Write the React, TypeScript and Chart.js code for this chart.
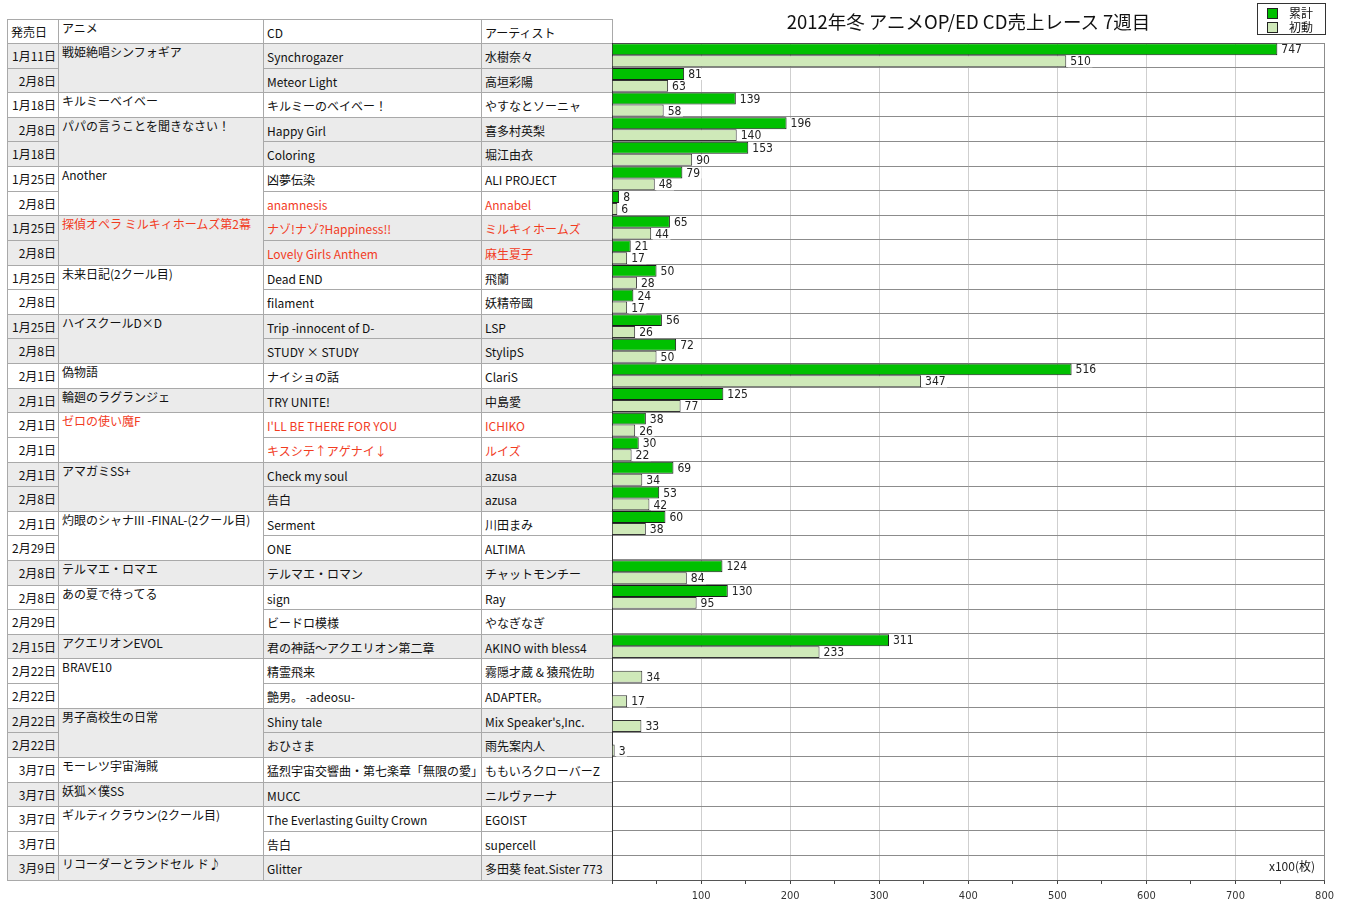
import React, { useEffect, useRef } from "react";
import { Chart, registerables } from "chart.js";

Chart.register(...registerables);

// ---------- data ----------
const chartTitle = "2012年冬 アニメOP/ED CD売上レース 7週目";
const unitLabel = "x100(枚)";
const headerLabels = ["発売日", "アニメ", "CD", "アーティスト"];
const seriesNames = ["累計", "初動"];

const releaseDates = [
  "1月11日", "2月8日", "1月18日", "2月8日", "1月18日", "1月25日", "2月8日", "1月25日", "2月8日",
  "1月25日", "2月8日", "1月25日", "2月8日", "2月1日", "2月1日", "2月1日", "2月1日", "2月1日",
  "2月8日", "2月1日", "2月29日", "2月8日", "2月8日", "2月29日", "2月15日", "2月22日", "2月22日",
  "2月22日", "2月22日", "3月7日", "3月7日", "3月7日", "3月7日", "3月9日",
];

const animeTitles = [
  "戦姫絶唱シンフォギア", "キルミーベイベー", "パパの言うことを聞きなさい！", "Another",
  "探偵オペラ ミルキィホームズ第2幕", "未来日記(2クール目)", "ハイスクールD×D", "偽物語",
  "輪廻のラグランジェ", "ゼロの使い魔F", "アマガミSS+", "灼眼のシャナIII -FINAL-(2クール目)",
  "テルマエ・ロマエ", "あの夏で待ってる", "アクエリオンEVOL", "BRAVE10", "男子高校生の日常",
  "モーレツ宇宙海賊", "妖狐×僕SS", "ギルティクラウン(2クール目)", "リコーダーとランドセル ド♪",
];
const animeRowCounts = [2, 1, 2, 2, 2, 2, 2, 1, 1, 2, 2, 2, 1, 2, 1, 2, 2, 1, 1, 2, 1];
const redAnime = [4, 9];

const cdTitles = [
  "Synchrogazer", "Meteor Light", "キルミーのベイベー！", "Happy Girl", "Coloring", "凶夢伝染",
  "anamnesis", "ナゾ!ナゾ?Happiness!!", "Lovely Girls Anthem", "Dead END", "filament",
  "Trip -innocent of D-", "STUDY × STUDY", "ナイショの話", "TRY UNITE!", "I'LL BE THERE FOR YOU",
  "キスシテ↑アゲナイ↓", "Check my soul", "告白", "Serment", "ONE", "テルマエ・ロマン", "sign",
  "ビードロ模様", "君の神話～アクエリオン第二章", "精霊飛来", "艶男。 -adeosu-", "Shiny tale",
  "おひさま", "猛烈宇宙交響曲・第七楽章「無限の愛」", "MUCC", "The Everlasting Guilty Crown",
  "告白", "Glitter",
];

const artists = [
  "水樹奈々", "高垣彩陽", "やすなとソーニャ", "喜多村英梨", "堀江由衣", "ALI PROJECT", "Annabel",
  "ミルキィホームズ", "麻生夏子", "飛蘭", "妖精帝國", "LSP", "StylipS", "ClariS", "中島愛",
  "ICHIKO", "ルイズ", "azusa", "azusa", "川田まみ", "ALTIMA", "チャットモンチー", "Ray",
  "やなぎなぎ", "AKINO with bless4", "霧隠才蔵 & 猿飛佐助", "ADAPTER。", "Mix Speaker's,Inc.",
  "雨先案内人", "ももいろクローバーZ", "ニルヴァーナ", "EGOIST", "supercell", "多田葵 feat.Sister 773",
];
const redRows = [6, 7, 8, 15, 16];

const cumulativeSales = [
  747, 81, 139, 196, 153, 79, 8, 65, 21, 50, 24, 56, 72, 516, 125, 38, 30, 69, 53, 60, null,
  124, 130, null, 311, null, null, null, null, null, null, null, null, null,
];
const firstWeekSales = [
  510, 63, 58, 140, 90, 48, 6, 44, 17, 28, 17, 26, 50, 347, 77, 26, 22, 34, 42, 38, null,
  84, 95, null, 233, 34, 17, 33, 3, null, null, null, null, null,
];

const axisMax = 800;
const axisStep = 50;

// ---------- layout ----------
const FONT = "'Noto Sans CJK JP', 'Noto Sans', sans-serif";
const NUM_FONT = "'Liberation Sans Narrow', 'DejaVu Sans Condensed', 'Noto Sans CJK JP', sans-serif";
const COLS = [7, 58, 263, 481, 612];
const HEAD_TOP = 19;
const ROW_TOP = 43;
const ROW_BOTTOM = 880;
const ROW_H = (ROW_BOTTOM - ROW_TOP) / releaseDates.length;
const LINE = "#a9a9a9";
const GRAY = "#ebebeb";
const RED = "#f23c1f";
const DARK_GREEN = "#00c000";
const LIGHT_GREEN = "#cfe9b9";

type CellProps = {
  col: number;
  top: number;
  height: number;
  bg?: string;
  color?: string;
  align?: "left" | "right";
  valign?: "top" | "center";
  offsetY?: number;
  children?: React.ReactNode;
};

function Cell({ col, top, height, bg, color, align = "left", valign = "center", offsetY = 0, children }: CellProps) {
  const left = COLS[col];
  const width = COLS[col + 1] - left;
  return (
    <div
      style={{
        position: "absolute",
        left,
        top,
        width: width + 1,
        height: height + 1,
        boxSizing: "border-box",
        border: `1px solid ${LINE}`,
        background: bg || "#fff",
        color: color || "#111",
        fontFamily: FONT,
        fontSize: 12,
        lineHeight: "14px",
        display: "flex",
        alignItems: valign === "top" ? "flex-start" : "center",
        justifyContent: align === "right" ? "flex-end" : "flex-start",
        paddingLeft: align === "left" ? 3 : 0,
        paddingRight: align === "right" ? 2 : 0,
        paddingTop: valign === "top" ? 1 : offsetY,
        whiteSpace: "nowrap",
        overflow: "hidden",
      }}
    >
      {children}
    </div>
  );
}

function BarChart() {
  const ref = useRef<HTMLCanvasElement | null>(null);
  useEffect(() => {
    if (!ref.current) return;
    const valueLabels = {
      id: "valueLabels",
      afterDatasetsDraw(chart: any) {
        const ctx = chart.ctx;
        ctx.save();
        ctx.font = `12px ${NUM_FONT}`;
        ctx.textBaseline = "middle";
        ctx.textAlign = "left";
        chart.data.datasets.forEach((ds: any, i: number) => {
          const meta = chart.getDatasetMeta(i);
          meta.data.forEach((el: any, j: number) => {
            const v = ds.data[j];
            if (v == null) return;
            const s = String(v);
            const w = ctx.measureText(s).width;
            ctx.fillStyle = "#fff";
            ctx.fillRect(el.x + 1.5, el.y - 5, w + 4, 11);
            ctx.fillStyle = "#222";
            ctx.fillText(s, el.x + 4, el.y + 1);
          });
        });
        ctx.restore();
      },
    };
    const chart = new Chart(ref.current, {
      type: "bar",
      data: {
        labels: cdTitles,
        datasets: [
          {
            label: seriesNames[0],
            data: cumulativeSales,
            backgroundColor: DARK_GREEN,
            borderColor: "#1a1a1a",
            borderWidth: 1,
            categoryPercentage: 0.97,
            barPercentage: 1.0,
          },
          {
            label: seriesNames[1],
            data: firstWeekSales,
            backgroundColor: LIGHT_GREEN,
            borderColor: "#333",
            borderWidth: 1,
            categoryPercentage: 0.97,
            barPercentage: 1.0,
          },
        ],
      },
      options: {
        indexAxis: "y",
        animation: false,
        responsive: true,
        maintainAspectRatio: false,
        layout: { padding: { left: 12, top: 43, right: 15, bottom: 0 } },
        plugins: {
          legend: { display: false },
          title: { display: false },
          tooltip: { enabled: false },
        },
        scales: {
          x: {
            type: "linear",
            position: "bottom",
            min: 0,
            max: axisMax,
            ticks: {
              stepSize: axisStep,
              autoSkip: false,
              maxRotation: 0,
              padding: 6,
              color: "#333",
              font: { size: 11, family: NUM_FONT },
              callback: (v: any) => (Number(v) % 100 === 0 && Number(v) !== 0 ? String(v) : ""),
            },
            grid: {
              color: (c: any) => {
                const v = c.tick ? c.tick.value : 0;
                if (v === 0) return "rgba(0,0,0,0)";
                if (v === axisMax) return "#8c8c8c";
                return v % 100 === 0 ? "#cfcfcf" : "rgba(0,0,0,0)";
              },
              tickColor: "#444",
              tickLength: 4,
              lineWidth: 1,
            },
            border: { color: "#555", width: 1 },
            afterFit: (s: any) => {
              s.height = 34;
            },
          },
          y: {
            type: "category",
            ticks: { display: false },
            grid: { offset: true, color: "#8c8c8c", drawTicks: false, lineWidth: 1 },
            border: { color: "#333", width: 1 },
            afterFit: (s: any) => {
              s.width = 0;
            },
          },
        },
      } as any,
      plugins: [valueLabels],
    });
    return () => chart.destroy();
  }, []);
  return (
    <div style={{ position: "absolute", left: 600, top: 0, width: 740, height: 914 }}>
      <canvas ref={ref} />
    </div>
  );
}

export default function App() {
  const groupStart: number[] = [];
  let acc = 0;
  animeRowCounts.forEach((n) => {
    groupStart.push(acc);
    acc += n;
  });
  const rowGroup: number[] = [];
  animeRowCounts.forEach((n, g) => {
    for (let k = 0; k < n; k++) rowGroup.push(g);
  });
  const rowTop = (i: number) => Math.round(ROW_TOP + i * ROW_H);
  const rowSpan = (i: number, n: number) => rowTop(i + n) - rowTop(i);

  return (
    <div style={{ position: "absolute", left: 0, top: 0, width: 1350, height: 914, overflow: "hidden", background: "#fff" }}>
      {/* header */}
      <Cell col={0} top={HEAD_TOP} height={ROW_TOP - HEAD_TOP}>{headerLabels[0]}</Cell>
      <Cell col={1} top={HEAD_TOP} height={ROW_TOP - HEAD_TOP} valign="top">{headerLabels[1]}</Cell>
      <Cell col={2} top={HEAD_TOP} height={ROW_TOP - HEAD_TOP} offsetY={2}>{headerLabels[2]}</Cell>
      <Cell col={3} top={HEAD_TOP} height={ROW_TOP - HEAD_TOP} offsetY={2}>{headerLabels[3]}</Cell>

      {/* rows */}
      {releaseDates.map((d, i) => {
        const g = rowGroup[i];
        const bg = g % 2 === 0 ? GRAY : "#fff";
        const red = redRows.includes(i) ? RED : undefined;
        return (
          <React.Fragment key={i}>
            <Cell col={0} top={rowTop(i)} height={rowSpan(i, 1)} bg={bg} align="right">{d}</Cell>
            <Cell col={2} top={rowTop(i)} height={rowSpan(i, 1)} bg={bg} color={red} offsetY={2}>{cdTitles[i]}</Cell>
            <Cell col={3} top={rowTop(i)} height={rowSpan(i, 1)} bg={bg} color={red} offsetY={2}>{artists[i]}</Cell>
          </React.Fragment>
        );
      })}
      {animeTitles.map((t, g) => (
        <Cell
          key={"a" + g}
          col={1}
          top={rowTop(groupStart[g])}
          height={rowSpan(groupStart[g], animeRowCounts[g])}
          bg={g % 2 === 0 ? GRAY : "#fff"}
          color={redAnime.includes(g) ? RED : undefined}
          valign="top"
        >
          {t}
        </Cell>
      ))}

      <BarChart />

      {/* title */}
      <div
        style={{
          position: "absolute",
          left: 612,
          width: 713,
          top: 9,
          textAlign: "center",
          fontFamily: FONT,
          fontSize: 18.5,
          lineHeight: "24px",
          color: "#111",
          whiteSpace: "nowrap",
        }}
      >
        {chartTitle}
      </div>

      {/* legend */}
      <div
        style={{
          position: "absolute",
          left: 1257,
          top: 3,
          width: 69,
          height: 32,
          boxSizing: "border-box",
          border: "1px solid #333",
          background: "#fff",
          fontFamily: FONT,
          fontSize: 12,
          color: "#111",
        }}
      >
        {seriesNames.map((n, i) => (
          <div key={n} style={{ position: "absolute", left: 9, top: 2 + i * 14, height: 14, display: "flex", alignItems: "center" }}>
            <span
              style={{
                display: "inline-block",
                width: 11,
                height: 11,
                boxSizing: "border-box",
                border: "1px solid #222",
                background: i === 0 ? DARK_GREEN : LIGHT_GREEN,
              }}
            />
            <span style={{ marginLeft: 11, lineHeight: "14px" }}>{n}</span>
          </div>
        ))}
      </div>

      {/* unit */}
      <div
        style={{
          position: "absolute",
          left: 1200,
          width: 115,
          top: 858,
          textAlign: "right",
          fontFamily: FONT,
          fontSize: 12,
          lineHeight: "16px",
          color: "#222",
        }}
      >
        {unitLabel}
      </div>
    </div>
  );
}
